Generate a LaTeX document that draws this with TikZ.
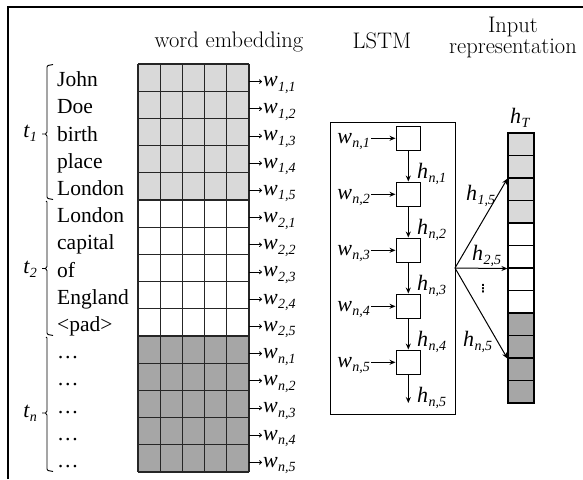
\documentclass[tikz,border=0pt]{standalone}
\usepackage{fontspec}
\newfontfamily\tnr{Liberation Serif}
\newfontfamily\dejavu{DejaVu Sans}
\usetikzlibrary{arrows.meta}
\definecolor{lightcell}{HTML}{D9D9D9}
\definecolor{darkcell}{HTML}{A6A6A6}
\newcommand{\mylab}[2]{{\tnr\itshape\fontsize{22}{22}\selectfont #1\kern0.3pt\raisebox{-4.5pt}{\fontsize{14}{14}\selectfont #2}}}
\begin{document}
\begin{tikzpicture}[x=1pt,y=-1pt,
  wordtxt/.style={font=\tnr\fontsize{21.5}{21.5}\selectfont, inner sep=0pt},
  header/.style={font=\fontsize{22.5}{26}\selectfont, inner sep=0pt},
  labtxt/.style={inner sep=1pt},
  gridline/.style={line width=1.1pt, draw=black!85},
  smallarrow/.style={line width=0.8pt, -{To[length=3pt,width=4.5pt]}},
  bigarrow/.style={line width=1pt, -{Stealth[length=6pt,width=5pt]}},
  bracestyle/.style={line width=0.9pt, line join=round},
  cellbox/.style={draw, line width=1.1pt, minimum size=24.5pt, inner sep=0pt},
  repcell/.style={draw, line width=1.1pt, minimum width=26pt, minimum height=22.5pt, inner sep=0pt}]
\useasboundingbox (0,0) rectangle (583,479);
\draw[line width=1.4pt] (8,479) -- (8,7) -- (583,7);

% headers
\node[header, anchor=base] (hwe) at (229,47) {word embedding};
\node[header, anchor=base] (hlstm) at (382,48) {LSTM};
\node[header, anchor=base] (hin) at (513,32) {Input};
\node[header, anchor=base] (hrep) at (513,53) {representation};

% embedding grid
\fill[lightcell] (138,64) rectangle (249,200);
\fill[white] (138,200) rectangle (249,336);
\fill[darkcell] (138,336) rectangle (249,472);
\foreach \k in {0,...,15} \draw[gridline] (138,{64+27.2*\k}) -- (249,{64+27.2*\k});
\foreach \k in {0,...,5} \draw[gridline] ({138+22.2*\k},64) -- ({138+22.2*\k},472);

% words
\foreach \w [count=\i] in {John,Doe,birth,place,London,London,capital,of,England,<pad>,\ldots,\ldots,\ldots,\ldots,\ldots}
  \node[wordtxt, anchor=base west] (word\i) at (57,{64+27.2*\i-4.5}) {\w};

% w labels
\foreach \g [count=\gi from 0] in {1,2,n} {
  \foreach \j in {1,...,5} {
    \pgfmathsetmacro\yc{64+27.2*(5*\gi+\j-0.5)+4}
    \coordinate (ge\g\j) at (249,\yc);
    \node[labtxt, anchor=base west] (w\g\j) at (262,\yc+4.9) {\mylab{w}{\g,\j}};
    \draw[smallarrow] (ge\g\j) -- (w\g\j.west |- ge\g\j);
  }
}

% brackets
\draw[bracestyle] (53,64.5) -- (48,65.5) -- (47,67) -- (47,132) -- (45.5,134) -- (42,134) (45.5,134) -- (47,136) -- (47,197) -- (48,198.5) -- (53,199.5);
\draw[bracestyle] (46,201) -- (47,202) -- (47,266.5) -- (45.5,268.5) -- (42,268.5) (45.5,268.5) -- (47,270.5) -- (47,333) -- (48,334.5) -- (53,335.5);
\draw[bracestyle] (46,337) -- (47,338) -- (47,411) -- (45.5,413) -- (42,413) (45.5,413) -- (47,415) -- (47,469) -- (48,470.5) -- (53,471.5);
\node[labtxt, anchor=base east] (t1) at (38,137) {\mylab{t}{1}};
\node[labtxt, anchor=base east] (t2) at (38,273) {\mylab{t}{2}};
\node[labtxt, anchor=base east] (tn) at (38,417) {\mylab{t}{n}};

% LSTM box
\node[draw, line width=1.1pt, minimum width=125pt, minimum height=292pt, inner sep=0pt, anchor=north west] (lstmbox) at (330,122) {};
\foreach \i in {1,...,5} {
  \node[cellbox] (c\i) at (408.3,{138.3+56*(\i-1)}) {};
  \node[labtxt, anchor=base east] (wl\i) at (371,{138.3+56*(\i-1)+5}) {\mylab{w}{n,\i}};
  \draw[bigarrow] (wl\i.east |- c\i) -- (c\i.west);
  \node[labtxt, anchor=base west] (hl\i) at (416,{150.5+56*(\i-1)+27.5}) {\mylab{h}{n,\i}};
}
\foreach \i/\k in {1/2,2/3,3/4,4/5} \draw[bigarrow] (c\i) -- (c\k);
\coordinate (hend) at (408.3,403);
\draw[bigarrow] (c5) -- (hend);

% input representation column
\foreach \k in {1,...,12} {
  \pgfmathsetmacro\yy{133+22.5*(\k-0.5)}
  \ifnum\k<5
    \node[repcell, fill=lightcell] (r\k) at (521,\yy) {};
  \else\ifnum\k<9
    \node[repcell, fill=white] (r\k) at (521,\yy) {};
  \else
    \node[repcell, fill=darkcell] (r\k) at (521,\yy) {};
  \fi\fi
}
\node[labtxt, anchor=base west] (hT) at (509,123) {\mylab{h}{T}};

% fan arrows
\coordinate (fan) at (455,268);
\draw[bigarrow] (fan) -- (r2.south west);
\draw[bigarrow] (fan) -- (r6.south west);
\draw[bigarrow] (fan) -- (r10.south west);
\node[labtxt, anchor=base west] (h15) at (465,200) {\mylab{h}{1,5}};
\node[labtxt, anchor=base west] (h25) at (471,260) {\mylab{h}{2,5}};
\node[labtxt, anchor=base west] (hn5) at (462,346) {\mylab{h}{n,5}};
\node[inner sep=0pt, font=\dejavu\bfseries\fontsize{11}{11}\selectfont] (vd) at (483,289) {⋮};
\end{tikzpicture}
\end{document}
